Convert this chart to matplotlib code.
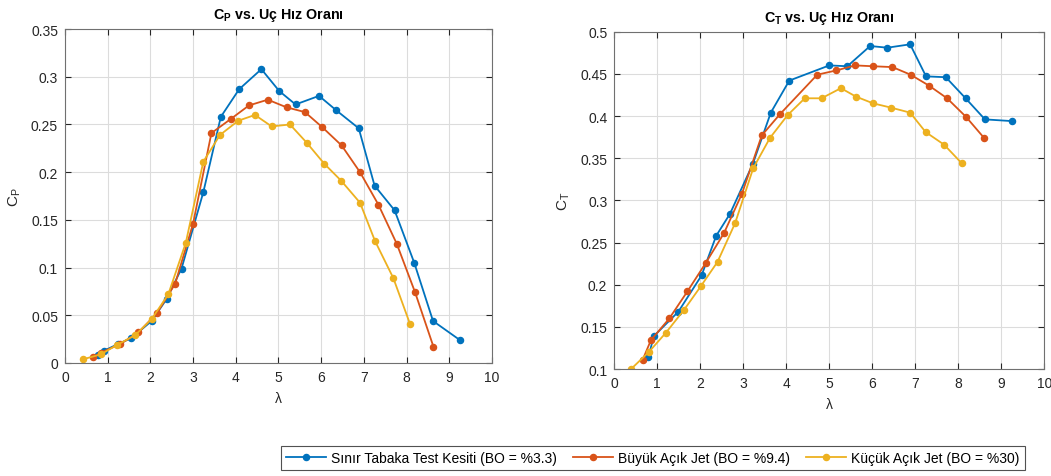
import matplotlib
matplotlib.use("Agg")
import matplotlib.pyplot as plt
from matplotlib.ticker import FuncFormatter

plt.rcParams['font.family'] = ['Liberation Sans', 'DejaVu Sans']
plt.rcParams['mathtext.fontset'] = 'custom'
plt.rcParams['mathtext.rm'] = 'Liberation Sans'
plt.rcParams['mathtext.it'] = 'Liberation Sans'
plt.rcParams['mathtext.bf'] = 'Liberation Sans:bold'

# seri isimleri
labels = ["Sınır Tabaka Test Kesiti (BO = %3.3)",
          "Büyük Açık Jet (BO = %9.4)",
          "Küçük Açık Jet (BO = %30)"]
colors = ["#0072BD", "#D95319", "#EDB120"]

# Cp verileri
cp_tsr_sinir = [0.78, 0.92, 1.25, 1.55, 2.03, 2.38, 2.73, 3.24, 3.65, 4.08, 4.6,
                5.02, 5.4, 5.95, 6.35, 6.88, 7.25, 7.72, 8.18, 8.62, 9.25]
cp_sinir = [0.008, 0.013, 0.020, 0.026, 0.044, 0.067, 0.099, 0.179, 0.258, 0.287, 0.308,
            0.285, 0.271, 0.280, 0.265, 0.246, 0.186, 0.160, 0.105, 0.044, 0.024]

cp_tsr_buyuk = [0.65, 0.85, 1.3, 1.72, 2.15, 2.58, 3.0, 3.43, 3.89, 4.31, 4.75,
                5.19, 5.62, 6.03, 6.48, 6.91, 7.34, 7.77, 8.2, 8.63]
cp_buyuk = [0.006, 0.011, 0.020, 0.032, 0.052, 0.083, 0.146, 0.241, 0.256, 0.270, 0.276,
            0.268, 0.263, 0.247, 0.228, 0.200, 0.166, 0.125, 0.074, 0.017]

cp_tsr_kucuk = [0.43, 0.84, 1.22, 1.64, 2.03, 2.42, 2.83, 3.24, 3.63, 4.06, 4.45,
                4.84, 5.27, 5.66, 6.07, 6.47, 6.91, 7.26, 7.69, 8.08]
cp_kucuk = [0.004, 0.009, 0.019, 0.029, 0.046, 0.072, 0.126, 0.211, 0.239, 0.254, 0.260,
            0.248, 0.250, 0.231, 0.209, 0.191, 0.168, 0.128, 0.089, 0.041]

# Ct verileri
ct_tsr_sinir = [0.79, 0.92, 1.49, 2.03, 2.37, 2.69, 3.22, 3.64, 4.07, 5.0, 5.42,
                5.95, 6.35, 6.88, 7.25, 7.71, 8.17, 8.62, 9.24]
ct_sinir = [0.114, 0.139, 0.168, 0.211, 0.258, 0.284, 0.343, 0.404, 0.442, 0.460, 0.459,
            0.483, 0.481, 0.485, 0.447, 0.446, 0.421, 0.396, 0.394]

ct_tsr_buyuk = [0.66, 0.85, 1.28, 1.70, 2.13, 2.55, 2.97, 3.43, 3.85, 4.72, 5.16,
                5.60, 6.02, 6.47, 6.89, 7.32, 7.74, 8.18, 8.60]
ct_buyuk = [0.111, 0.134, 0.160, 0.192, 0.226, 0.261, 0.308, 0.377, 0.402, 0.449, 0.454,
            0.460, 0.459, 0.458, 0.449, 0.436, 0.421, 0.399, 0.374]

ct_tsr_kucuk = [0.39, 0.80, 1.20, 1.62, 2.01, 2.40, 2.81, 3.23, 3.62, 4.03, 4.43,
                4.82, 5.27, 5.62, 6.02, 6.43, 6.88, 7.24, 7.67, 8.08]
ct_kucuk = [0.100, 0.120, 0.143, 0.170, 0.198, 0.227, 0.273, 0.338, 0.374, 0.401, 0.421,
            0.421, 0.433, 0.423, 0.415, 0.410, 0.404, 0.381, 0.366, 0.344]

cp_yticks = [0, 0.05, 0.1, 0.15, 0.2, 0.25, 0.3, 0.35]
ct_yticks = [0.1, 0.15, 0.2, 0.25, 0.3, 0.35, 0.4, 0.45, 0.5]
xticks = list(range(0, 11))

fig = plt.figure(figsize=(10.51, 4.77), dpi=100)
ax1 = fig.add_axes([0.0618, 0.2369, 0.4063, 0.700])
ax2 = fig.add_axes([0.5845, 0.2243, 0.4091, 0.7072])

fmt = FuncFormatter(lambda v, p: "%g" % round(v, 3))
axcol = "#262626"


def style_axes(ax, yticks, ylab, title):
    ax.set_xlim(0, 10)
    ax.set_ylim(yticks[0], yticks[-1])
    ax.set_xticks(xticks)
    ax.set_yticks(yticks)
    ax.yaxis.set_major_formatter(fmt)
    ax.grid(True, color="#dcdcdc", linewidth=0.8)
    ax.set_axisbelow(True)
    ax.tick_params(direction="in", top=True, right=True, length=4, width=0.8,
                   colors=axcol, labelsize=10, labelcolor=axcol, pad=5)
    for s in ax.spines.values():
        s.set_color("#707070")
        s.set_linewidth(0.8)
    ax.set_xlabel("λ", fontsize=10, color=axcol, labelpad=5)
    ax.set_ylabel(ylab, fontsize=11, color=axcol, labelpad=6)
    ax.set_title(title, fontsize=10.3, fontweight="bold", color="#000000", pad=8)


series_cp = [(cp_tsr_sinir, cp_sinir), (cp_tsr_buyuk, cp_buyuk), (cp_tsr_kucuk, cp_kucuk)]
series_ct = [(ct_tsr_sinir, ct_sinir), (ct_tsr_buyuk, ct_buyuk), (ct_tsr_kucuk, ct_kucuk)]

lines = []
for i, (x, y) in enumerate(series_cp):
    ln, = ax1.plot(x, y, "-o", color=colors[i], linewidth=1.3, markersize=4.4, label=labels[i])
    lines.append(ln)
for i, (x, y) in enumerate(series_ct):
    ax2.plot(x, y, "-o", color=colors[i], linewidth=1.3, markersize=4.4)

style_axes(ax1, cp_yticks, r"$\mathregular{C_P}$", r"$\mathbf{C_P}$ vs. Uç Hız Oranı")
style_axes(ax2, ct_yticks, r"$\mathregular{C_T}$", r"$\mathbf{C_T}$ vs. Uç Hız Oranı")

leg = fig.legend(handles=lines, loc="center", bbox_to_anchor=(0.621, 0.037), ncol=3,
                 fontsize=10, frameon=True, fancybox=False, edgecolor="#262626",
                 handlelength=2.9, handletextpad=0.4, columnspacing=1.1,
                 borderpad=0.35)
leg.get_frame().set_linewidth(0.8)

fig.savefig("out.png", dpi=100)
